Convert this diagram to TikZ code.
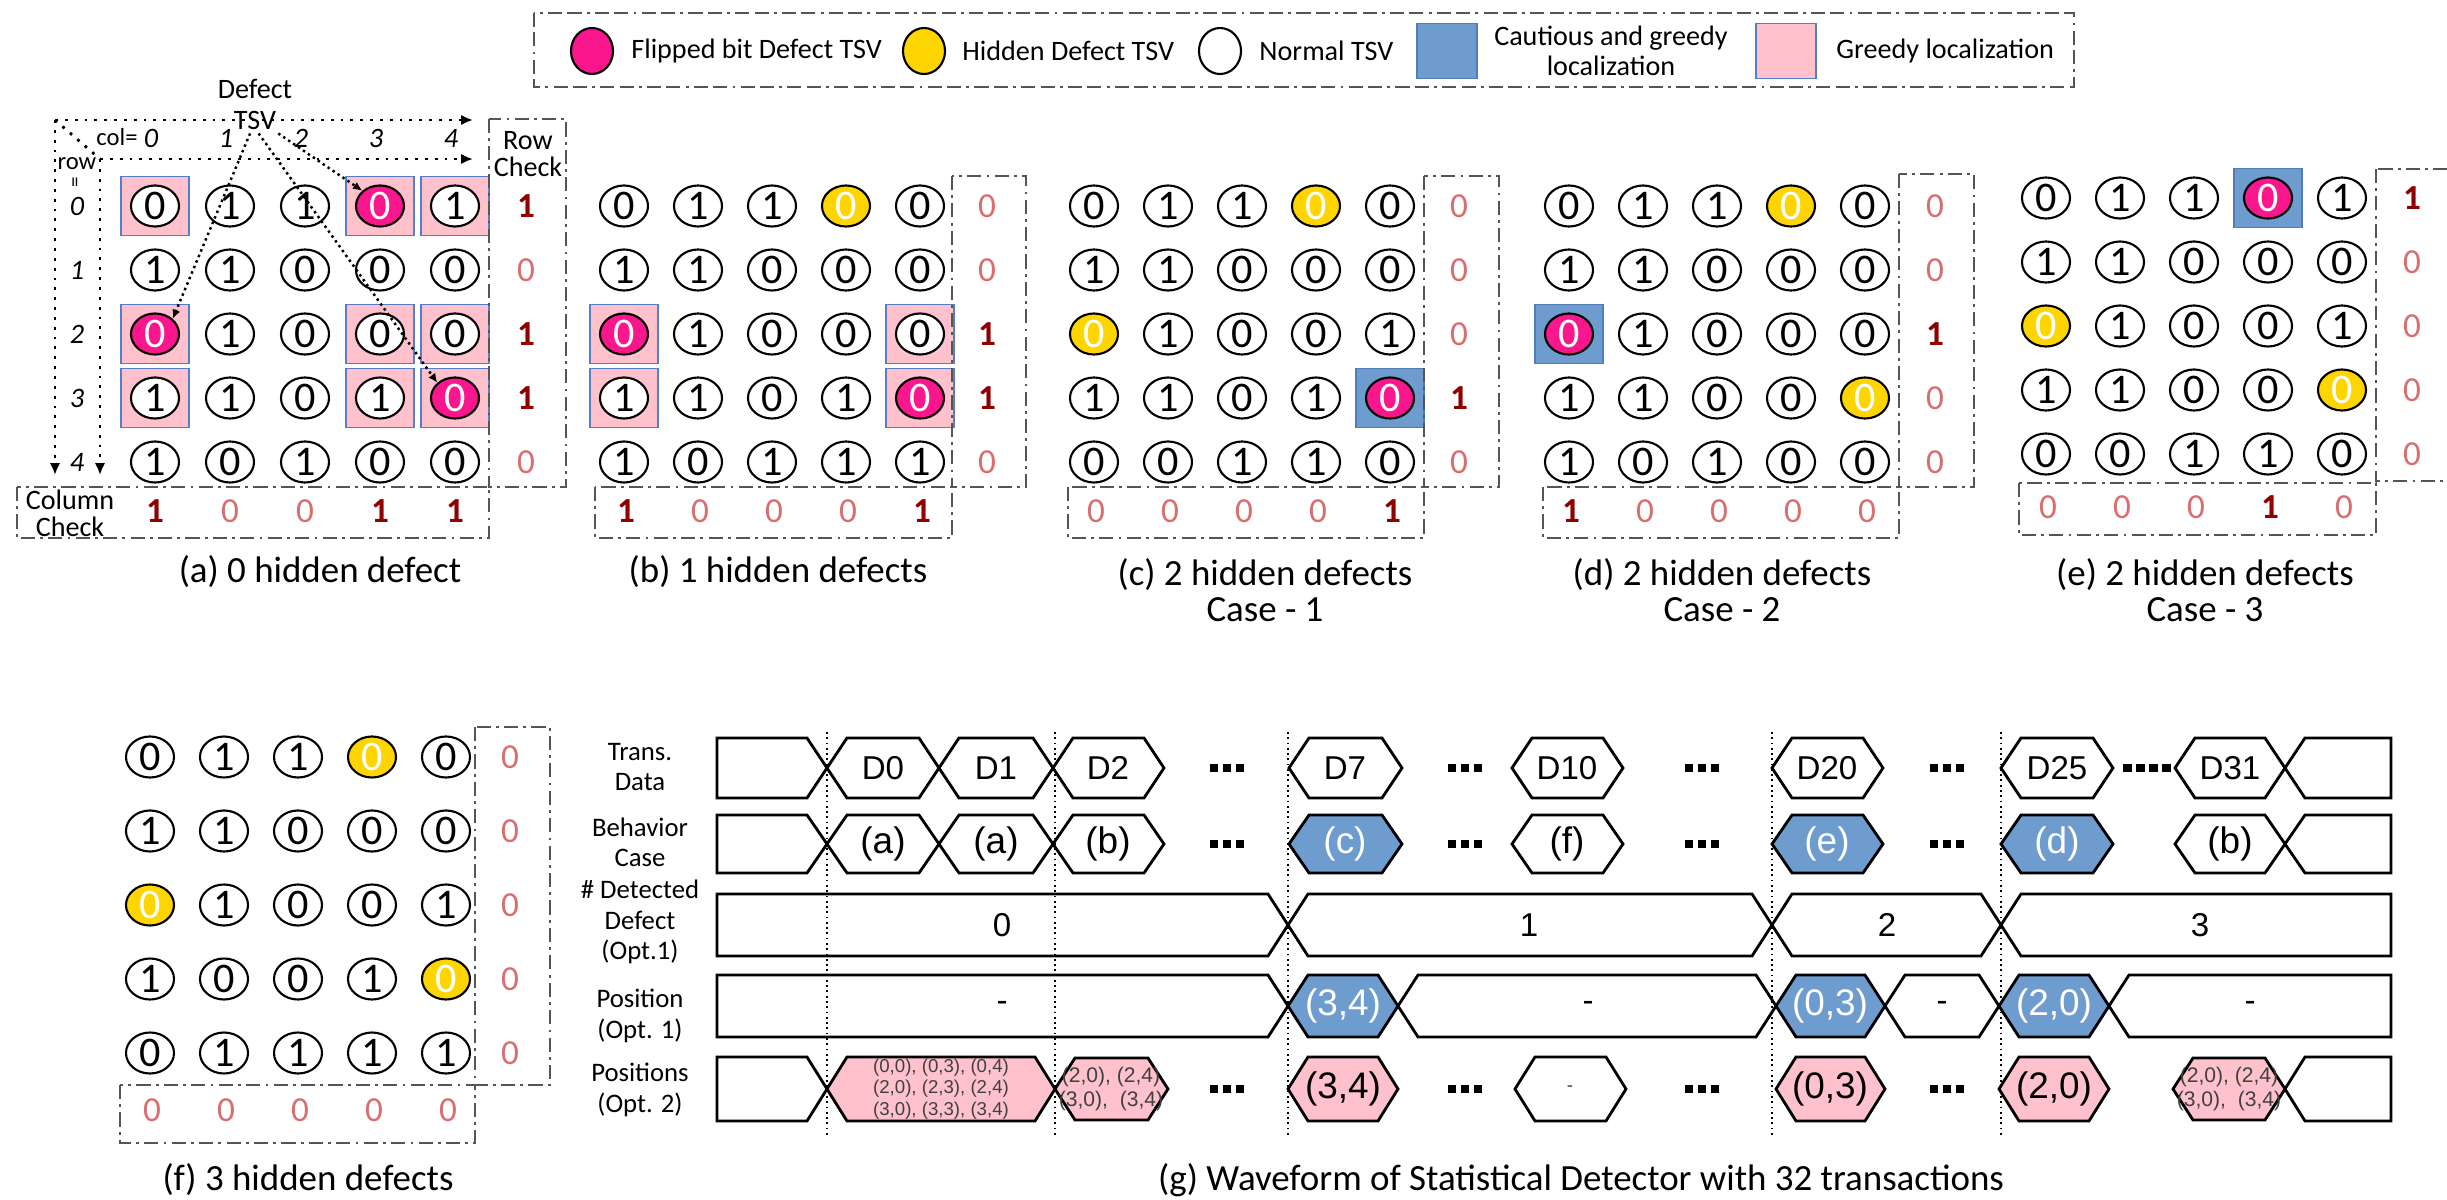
\documentclass[tikz,border=0pt]{standalone}
\usepackage{fontspec}
\setmainfont{Carlito}
\newfontfamily\wavefont{Liberation Sans}
\usetikzlibrary{shapes.geometric, arrows.meta, positioning, calc}
\definecolor{flipmag}{RGB}{250, 22, 140}
\definecolor{hiddenyel}{RGB}{255, 213, 0}
\definecolor{cautblue}{RGB}{110, 156, 206}
\definecolor{cautedge}{RGB}{80, 125, 185}
\definecolor{greedypink}{RGB}{255, 193, 204}
\definecolor{greedyedge}{RGB}{85, 125, 200}
\definecolor{chkdark}{RGB}{145, 0, 0}
\definecolor{chklight}{RGB}{218, 110, 110}
\definecolor{framegray}{RGB}{85, 85, 85}

\newcommand\colstep{74}
\newcommand\rowstep{64}
\newcommand\wsl{20}

% one row of TSVs: panel, row, first x, y, bit/kind/box list
\newcommand\tsvrow[5]{%
  \foreach \tbit/\tkind/\tbox [count=\ci from 0] in {#5} {
    \node[sq-\tbox] (#1-sq-#2-\ci) at ({#3+\ci*\colstep}, #4) {};
    \node[tsv-\tkind] (#1-#2-\ci) at ({#3+\ci*\colstep}, #4) {\tbit};
  }}
% parity checks
\newcommand\rowchk[4]{\foreach \cv [count=\ri from 0] in {#4} {\node[chk-\cv] (#1-rc-\ri) at (#2, {#3+\ri*\rowstep}) {\cv};}}
\newcommand\colchk[4]{\foreach \cv [count=\ci from 0] in {#4} {\node[chk-\cv] (#1-cc-\ci) at ({#2+\ci*\colstep}, #3) {\cv};}}

% waveform segments: [style] x1, x2, y middle, half height
\newcommand\wvhex[5][]{%
  \draw[wave,#1] (#2,#4) -- ({#2+\wsl},{#4-#5}) -- ({#3-\wsl},{#4-#5})
    -- (#3,#4) -- ({#3-\wsl},{#4+#5}) -- ({#2+\wsl},{#4+#5}) -- cycle;}
\newcommand\wvstart[5][]{%
  \draw[wave,#1] (#2,{#4-#5}) -- ({#3-\wsl},{#4-#5}) -- (#3,#4)
    -- ({#3-\wsl},{#4+#5}) -- (#2,{#4+#5}) -- cycle;}
\newcommand\wvend[5][]{%
  \draw[wave,#1] (#2,#4) -- ({#2+\wsl},{#4-#5}) -- (#3,{#4-#5})
    -- (#3,{#4+#5}) -- ({#2+\wsl},{#4+#5}) -- cycle;}
\newcommand\sqd{\rule{0.085cm}{0.085cm}}
\newcommand\sqdots{\sqd\hspace{0.045cm}\sqd\hspace{0.045cm}\sqd}
\newcommand\sqdotsiv{\sqdots\hspace{0.045cm}\sqd}

\begin{document}
\begin{tikzpicture}[x=0.01cm, y=-0.01cm,
    tsv/.style={ellipse, draw=black, line width=0.6pt, minimum width=0.48cm, minimum height=0.41cm, inner sep=0pt, font=\fontsize{12}{12}\selectfont},
    tsv-n/.style={tsv, fill=white},
    tsv-f/.style={tsv, fill=flipmag, text=white},
    tsv-h/.style={tsv, fill=hiddenyel, text=white},
    sq-p/.style={rectangle, draw=greedyedge, fill=greedypink, line width=0.5pt, minimum width=0.68cm, minimum height=0.59cm, inner sep=0pt},
    sq-b/.style={rectangle, draw=cautedge, fill=cautblue, line width=0.5pt, minimum width=0.68cm, minimum height=0.59cm, inner sep=0pt},
    sq-x/.style={inner sep=0pt, minimum size=0pt},
    chk-1/.style={text=chkdark, font=\bfseries\fontsize{10}{10}\selectfont},
    chk-0/.style={text=chklight, font=\fontsize{10}{10}\selectfont},
    chkbox/.style={draw=framegray, line width=0.8pt, dash pattern=on 4pt off 1.5pt on 0.8pt off 1.5pt},
    legbox/.style={draw=framegray, line width=0.8pt, dash pattern=on 4pt off 1.5pt on 4pt off 1.5pt on 0.8pt off 1.5pt},
    lbl/.style={font=\fontsize{8}{7.6}\selectfont, align=center, inner sep=1pt},
    idx/.style={font=\itshape\fontsize{8}{9}\selectfont, inner sep=1pt},
    caption/.style={font=\fontsize{10.5}{10.2}\selectfont, align=center},
    axis/.style={dotted, line width=0.8pt, -{Latex[length=3.4pt, width=3pt]}},
    defarrow/.style={densely dotted, line width=0.7pt, -{Latex[length=2.6pt, width=2.4pt]}},
    legtxt/.style={font=\fontsize{8}{8.5}\selectfont, align=center},
    wave/.style={draw=black, line width=0.8pt},
    wblue/.style={fill=cautblue},
    wpink/.style={fill=greedypink},
    wtxt/.style={font=\wavefont\fontsize{9.4}{10}\selectfont},
    wcase/.style={font=\wavefont\fontsize{10.5}{11}\selectfont},
    wsmall/.style={font=\wavefont\fontsize{5.3}{6.2}\selectfont, align=center, text=black!75, inner sep=0pt},
    wlbl/.style={font=\fontsize{7.6}{8.6}\selectfont, align=center},
    vline/.style={densely dotted, line width=0.5pt}
]
\useasboundingbox (0,0) rectangle (2447,1200);

% legend
\draw[legbox] (534,13) rectangle (2074,87);
\node[tsv-f, minimum width=0.42cm, minimum height=0.46cm] (leg-flip) at (592,51) {};
\node[legtxt, anchor=west] (leg-flip-t) at (619,51) {Flipped bit Defect TSV};
\node[tsv-h, minimum width=0.42cm, minimum height=0.46cm] (leg-hid) at (924,51) {};
\node[legtxt, anchor=west] (leg-hid-t) at (950,51) {Hidden Defect TSV};
\node[tsv-n, minimum width=0.42cm, minimum height=0.46cm] (leg-norm) at (1220,51) {};
\node[legtxt, anchor=west] (leg-norm-t) at (1247,51) {Normal TSV};
\node[sq-b, minimum width=0.6cm, minimum height=0.55cm] (leg-caut) at (1447,51) {};
\node[legtxt] (leg-caut-t) at (1611,51) {Cautious and greedy\\localization};
\node[sq-p, minimum width=0.6cm, minimum height=0.55cm] (leg-greedy) at (1786,51) {};
\node[legtxt, anchor=west] (leg-greedy-t) at (1824,51) {Greedy localization};

% (a) 0 hidden defect
\renewcommand\colstep{75}
\coordinate (a-org) at (55,120);
\coordinate (a-xtip) at (473,120);
\coordinate (a-ytip) at (55,475);
\coordinate (a-org2) at (100,159);
\coordinate (a-xtip2) at (473,159);
\coordinate (a-ytip2) at (100,475);
\draw[axis] (a-org) -- (a-xtip);
\draw[axis] (a-org) -- (a-ytip);
\draw[axis] (a-org2) -- (a-xtip2);
\draw[axis] (a-org2) -- (a-ytip2);
\draw[dotted, line width=0.8pt] (a-org) -- (a-org2);
\node[lbl] (a-defect) at (255,89) {Defect};
\node[lbl] (a-tsv) at (255,120) {TSV};
\node[lbl, font=\fontsize{7}{8}\selectfont] (a-col) at (117,137) {col=};
\foreach \i in {0,...,4} \node[idx] (a-cn-\i) at ({151+\i*\colstep},138) {\i};
\node[lbl, font=\fontsize{7}{8}\selectfont] (a-row) at (77,164) {row};
\node[lbl, rotate=90, font=\fontsize{6}{6}\selectfont] (a-roweq) at (77,182) {=};
\foreach \i in {0,...,4} \node[idx] (a-rn-\i) at (77,{206+\i*\rowstep}) {\i};
\tsvrow{a}{0}{155}{206}{0/n/p,1/n/x,1/n/x,0/f/p,1/n/p}
\tsvrow{a}{1}{155}{270}{1/n/x,1/n/x,0/n/x,0/n/x,0/n/x}
\tsvrow{a}{2}{155}{334}{0/f/p,1/n/x,0/n/x,0/n/p,0/n/p}
\tsvrow{a}{3}{155}{398}{1/n/p,1/n/x,0/n/x,1/n/p,0/f/p}
\tsvrow{a}{4}{155}{462}{1/n/x,0/n/x,1/n/x,0/n/x,0/n/x}
\draw[defarrow] (a-tsv.250) -- (a-2-0.north east);
\draw[defarrow] (a-tsv.-75) -- (a-3-4.north west);
\draw[defarrow] (a-tsv.-30) -- (a-0-3.north west);
\node[lbl] (a-rclbl) at (528,154) {Row\\Check};
\rowchk{a}{526}{206}{1,0,1,1,0}
\draw[chkbox] (489,119) rectangle (566,487);
\node[lbl] (a-cclbl) at (70,513) {Column\\Check};
\colchk{a}{155}{511}{1,0,0,1,1}
\draw[chkbox] (17,487) rectangle (489,538);
\node[caption] (a-cap) at (320,572) {(a) 0 hidden defect};

% (b) 1 hidden defects
\renewcommand\colstep{74}
\tsvrow{b}{0}{624}{206}{0/n/x,1/n/x,1/n/x,0/h/x,0/n/x}
\tsvrow{b}{1}{624}{270}{1/n/x,1/n/x,0/n/x,0/n/x,0/n/x}
\tsvrow{b}{2}{624}{334}{0/f/p,1/n/x,0/n/x,0/n/x,0/n/p}
\tsvrow{b}{3}{624}{398}{1/n/p,1/n/x,0/n/x,1/n/x,0/f/p}
\tsvrow{b}{4}{624}{462}{1/n/x,0/n/x,1/n/x,1/n/x,1/n/x}
\rowchk{b}{987}{206}{0,0,1,1,0}
\colchk{b}{626}{511}{1,0,0,0,1}
\draw[chkbox] (952,176) rectangle (1026,487);
\draw[chkbox] (595,487) rectangle (952,538);
\node[caption] (b-cap) at (778,572) {(b) 1 hidden defects};

% (c) 2 hidden defects, case 1
\tsvrow{c}{0}{1094}{206}{0/n/x,1/n/x,1/n/x,0/h/x,0/n/x}
\tsvrow{c}{1}{1094}{270}{1/n/x,1/n/x,0/n/x,0/n/x,0/n/x}
\tsvrow{c}{2}{1094}{334}{0/h/x,1/n/x,0/n/x,0/n/x,1/n/x}
\tsvrow{c}{3}{1094}{398}{1/n/x,1/n/x,0/n/x,1/n/x,0/f/b}
\tsvrow{c}{4}{1094}{462}{0/n/x,0/n/x,1/n/x,1/n/x,0/n/x}
\rowchk{c}{1459}{206}{0,0,0,1,0}
\colchk{c}{1096}{511}{0,0,0,0,1}
\draw[chkbox] (1424,176) rectangle (1499,487);
\draw[chkbox] (1068,487) rectangle (1424,538);
\node[caption] (c-cap) at (1265,590) {(c) 2 hidden defects\\Case - 1};

% (d) 2 hidden defects, case 2
\tsvrow{d}{0}{1569}{206}{0/n/x,1/n/x,1/n/x,0/h/x,0/n/x}
\tsvrow{d}{1}{1569}{270}{1/n/x,1/n/x,0/n/x,0/n/x,0/n/x}
\tsvrow{d}{2}{1569}{334}{0/f/b,1/n/x,0/n/x,0/n/x,0/n/x}
\tsvrow{d}{3}{1569}{398}{1/n/x,1/n/x,0/n/x,0/n/x,0/h/x}
\tsvrow{d}{4}{1569}{462}{1/n/x,0/n/x,1/n/x,0/n/x,0/n/x}
\rowchk{d}{1935}{206}{0,0,1,0,0}
\colchk{d}{1571}{511}{1,0,0,0,0}
\draw[chkbox] (1899,174) rectangle (1974,487);
\draw[chkbox] (1543,487) rectangle (1899,538);
\node[caption] (d-cap) at (1722,590) {(d) 2 hidden defects\\Case - 2};

% (e) 2 hidden defects, case 3
\tsvrow{e}{0}{2046}{198}{0/n/x,1/n/x,1/n/x,0/f/b,1/n/x}
\tsvrow{e}{1}{2046}{262}{1/n/x,1/n/x,0/n/x,0/n/x,0/n/x}
\tsvrow{e}{2}{2046}{326}{0/h/x,1/n/x,0/n/x,0/n/x,1/n/x}
\tsvrow{e}{3}{2046}{390}{1/n/x,1/n/x,0/n/x,0/n/x,0/h/x}
\tsvrow{e}{4}{2046}{454}{0/n/x,0/n/x,1/n/x,1/n/x,0/n/x}
\rowchk{e}{2412}{198}{1,0,0,0,0}
\colchk{e}{2048}{507}{0,0,0,1,0}
\draw[chkbox] (2376,169) rectangle (2470,481);
\draw[chkbox] (2019,483) rectangle (2376,535);
\node[caption] (e-cap) at (2205,590) {(e) 2 hidden defects\\Case - 3};

% (f) 3 hidden defects
\renewcommand\rowstep{74}
\tsvrow{f}{0}{150}{757}{0/n/x,1/n/x,1/n/x,0/h/x,0/n/x}
\tsvrow{f}{1}{150}{831}{1/n/x,1/n/x,0/n/x,0/n/x,0/n/x}
\tsvrow{f}{2}{150}{905}{0/h/x,1/n/x,0/n/x,0/n/x,1/n/x}
\tsvrow{f}{3}{150}{979}{1/n/x,0/n/x,0/n/x,1/n/x,0/h/x}
\tsvrow{f}{4}{150}{1053}{0/n/x,1/n/x,1/n/x,1/n/x,1/n/x}
\rowchk{f}{510}{757}{0,0,0,0,0}
\colchk{f}{152}{1110}{0,0,0,0,0}
\draw[chkbox] (475,727) rectangle (550,1085);
\draw[chkbox] (120,1085) rectangle (475,1143);
\node[caption] (f-cap) at (308,1180) {(f) 3 hidden defects};

% (g) waveform
\foreach \vx [count=\vi] in {827,1055,1288,1772,2001} {
  \coordinate (w-vt\vi) at (\vx,732);
  \coordinate (w-vb\vi) at (\vx,1138);
  \draw[vline] (w-vt\vi) -- (w-vb\vi);
}
\node[wlbl] (w-lab1) at (640,767) {Trans.\\Data};
\node[wlbl] (w-lab2) at (640,842) {Behavior\\Case};
\node[wlbl] (w-lab3) at (640,922) {\# Detected\\Defect\\(Opt.1)};
\node[wlbl] (w-lab4) at (640,1016) {Position\\(Opt. 1)};
\node[wlbl] (w-lab5) at (640,1090) {Positions\\(Opt. 2)};

% transactions
\wvstart{717}{827}{768}{30}
\wvhex{827}{939}{768}{30}\node[wtxt] (w-d0) at (883,768) {D0};
\wvhex{939}{1053}{768}{30}\node[wtxt] (w-d1) at (996,768) {D1};
\wvhex{1053}{1164}{768}{30}\node[wtxt] (w-d2) at (1108,768) {D2};
\node (w-dots1a) at (1227,768) {\sqdots};
\wvhex{1289}{1402}{768}{30}\node[wtxt] (w-d7) at (1345,768) {D7};
\node (w-dots1b) at (1465,768) {\sqdots};
\wvhex{1512}{1623}{768}{30}\node[wtxt] (w-d10) at (1567,768) {D10};
\node (w-dots1c) at (1702,768) {\sqdots};
\wvhex{1772}{1883}{768}{30}\node[wtxt] (w-d20) at (1827,768) {D20};
\node (w-dots1d) at (1947,768) {\sqdots};
\wvhex{2001}{2113}{768}{30}\node[wtxt] (w-d25) at (2057,768) {D25};
\node (w-dots1e) at (2147,768) {\sqdotsiv};
\wvhex{2175}{2285}{768}{30}\node[wtxt] (w-d31) at (2230,768) {D31};
\wvend{2285}{2391}{768}{30}

% behavior cases
\wvstart{717}{827}{844}{29}
\wvhex{827}{939}{844}{29}\node[wcase] (w-ba0) at (883,844) {(a)};
\wvhex{939}{1053}{844}{29}\node[wcase] (w-ba1) at (996,844) {(a)};
\wvhex{1053}{1164}{844}{29}\node[wcase] (w-bb2) at (1108,844) {(b)};
\node (w-dots2a) at (1227,844) {\sqdots};
\wvhex[wblue]{1289}{1402}{844}{29}\node[wcase, text=white] (w-bc7) at (1345,844) {(c)};
\node (w-dots2b) at (1465,844) {\sqdots};
\wvhex{1512}{1623}{844}{29}\node[wcase] (w-bf10) at (1567,844) {(f)};
\node (w-dots2c) at (1702,844) {\sqdots};
\wvhex[wblue]{1772}{1883}{844}{29}\node[wcase, text=white] (w-be20) at (1827,844) {(e)};
\node (w-dots2d) at (1947,844) {\sqdots};
\wvhex[wblue]{2001}{2113}{844}{29}\node[wcase, text=white] (w-bd25) at (2057,844) {(d)};
\wvhex{2175}{2285}{844}{29}\node[wcase] (w-bb31) at (2230,844) {(b)};
\wvend{2285}{2391}{844}{29}

% detected defects
\wvstart{717}{1288}{925}{31}\node[wtxt] (w-n0) at (1002,925) {0};
\wvhex{1288}{1772}{925}{31}\node[wtxt] (w-n1) at (1529,925) {1};
\wvhex{1772}{2001}{925}{31}\node[wtxt] (w-n2) at (1887,925) {2};
\wvend{2001}{2391}{925}{31}\node[wtxt] (w-n3) at (2200,925) {3};

% position, option 1
\wvstart{717}{1288}{1006}{31}\node[wtxt] (w-p0) at (1002,1006) {-};
\wvhex[wblue]{1288}{1398}{1006}{31}\node[wcase, text=white] (w-p34) at (1343,1006) {(3,4)};
\wvhex{1398}{1776}{1006}{31}\node[wtxt] (w-p1) at (1588,1006) {-};
\wvhex[wblue]{1776}{1885}{1006}{31}\node[wcase, text=white] (w-p03) at (1830,1006) {(0,3)};
\wvhex{1885}{1999}{1006}{31}\node[wtxt] (w-p2) at (1942,1006) {-};
\wvhex[wblue]{1999}{2109}{1006}{31}\node[wcase, text=white] (w-p20) at (2054,1006) {(2,0)};
\wvend{2109}{2391}{1006}{31}\node[wtxt] (w-p3) at (2250,1006) {-};

% positions, option 2
\wvstart{717}{827}{1089}{32}
\wvhex[wpink]{827}{1055}{1089}{32}
\node[wsmall] (w-q0) at (941,1089) {(0,0), (0,3), (0,4)\\(2,0), (2,3), (2,4)\\(3,0), (3,3), (3,4)};
\wvhex[wpink]{1055}{1168}{1089}{31}
\node[wsmall, font=\wavefont\fontsize{6}{6.8}\selectfont] (w-q2) at (1111,1089) {(2,0), (2,4)\\(3,0),~~(3,4)};
\node (w-dots5a) at (1227,1089) {\sqdots};
\wvhex[wpink]{1288}{1398}{1089}{32}\node[wcase] (w-q34) at (1343,1089) {(3,4)};
\node (w-dots5b) at (1465,1089) {\sqdots};
\wvhex{1515}{1626}{1089}{32}\node[wsmall] (w-q10) at (1570,1089) {-};
\node (w-dots5c) at (1702,1089) {\sqdots};
\wvhex[wpink]{1776}{1885}{1089}{32}\node[wcase] (w-q03) at (1830,1089) {(0,3)};
\node (w-dots5d) at (1947,1089) {\sqdots};
\wvhex[wpink]{1999}{2109}{1089}{32}\node[wcase] (w-q20) at (2054,1089) {(2,0)};
\wvhex[wpink]{2173}{2285}{1089}{31}
\node[wsmall, font=\wavefont\fontsize{6}{6.8}\selectfont] (w-q31) at (2229,1089) {(2,0), (2,4)\\(3,0),~~(3,4)};
\wvend{2285}{2391}{1089}{32}

\node[caption] (g-cap) at (1581,1180) {(g) Waveform of Statistical Detector with 32 transactions};
\end{tikzpicture}
\end{document}
